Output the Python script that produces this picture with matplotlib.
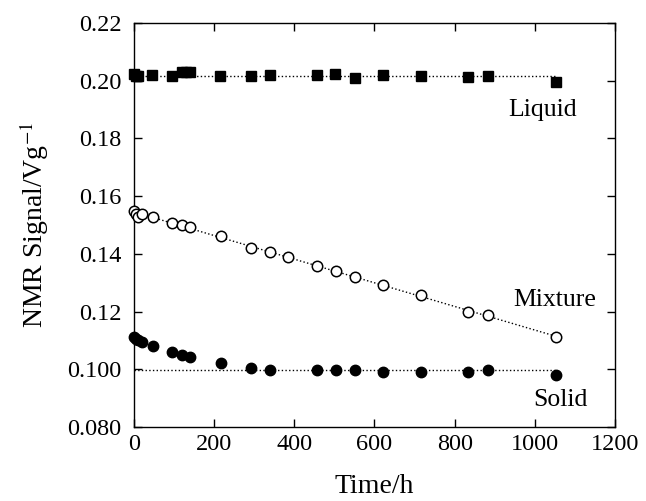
import numpy as np
import matplotlib
matplotlib.use("Agg")
import matplotlib.pyplot as plt
from matplotlib.ticker import FixedLocator, FixedFormatter

plt.rcParams['font.family'] = ['Liberation Serif', 'DejaVu Serif']
plt.rcParams['mathtext.fontset'] = 'stix'

# Data (time in hours, NMR signal in V/g)
liquid_t = [0, 6, 10, 46, 94, 119, 130, 140, 215, 291, 339, 456, 502, 551, 622, 716, 834, 882, 1053]
liquid_v = [0.2023, 0.2016, 0.2015, 0.2020, 0.2016, 0.2031, 0.2031, 0.2031, 0.2016, 0.2018, 0.2020,
            0.2020, 0.2023, 0.2008, 0.2020, 0.2016, 0.2012, 0.2016, 0.1995]

mixture_t = [0, 6, 10, 21, 48, 94, 119, 140, 216, 292, 339, 385, 456, 504, 551, 622, 716, 834, 882, 1053]
mixture_v = [0.1550, 0.1538, 0.1529, 0.1538, 0.1527, 0.1506, 0.1500, 0.1494, 0.1462, 0.1421, 0.1407,
             0.1389, 0.1358, 0.1340, 0.1320, 0.1292, 0.1256, 0.1198, 0.1188, 0.1111]

solid_t = [0, 6, 10, 21, 48, 94, 119, 140, 216, 291, 339, 456, 504, 551, 622, 716, 834, 882, 1053]
solid_v = [0.1111, 0.1104, 0.1100, 0.1096, 0.1082, 0.1060, 0.1050, 0.1044, 0.1021, 0.1006, 0.0997,
           0.0997, 0.0996, 0.0998, 0.0991, 0.0990, 0.0991, 0.0997, 0.0981]

liquid_level = 0.2016
solid_level = 0.0996
line_range = [0, 1053]

yticks = [0.080, 0.100, 0.12, 0.14, 0.16, 0.18, 0.20, 0.22]
ytick_labels = ["0.080", "0.100", "0.12", "0.14", "0.16", "0.18", "0.20", "0.22"]
xticks = [0, 200, 400, 600, 800, 1000, 1200]

fig = plt.figure(figsize=(6.46, 5.01), dpi=100)
ax = fig.add_axes([0.2074, 0.1477, 0.7446, 0.8063])

# fitted / guide lines
ax.plot(line_range, [liquid_level, liquid_level], ls=':', color='black', lw=1.0)
ax.plot(line_range, [solid_level, solid_level], ls=':', color='black', lw=1.0)
coef = np.polyfit(mixture_t, mixture_v, 1)
ax.plot(line_range, np.polyval(coef, line_range), ls=':', color='black', lw=1.0)

ax.plot(liquid_t, liquid_v, ls='none', marker='s', ms=6.5, color='black', clip_on=False, zorder=3)
ax.plot(mixture_t, mixture_v, ls='none', marker='o', ms=7.5, mfc='white', mec='black', mew=1.1,
        clip_on=False, zorder=3)
ax.plot(solid_t, solid_v, ls='none', marker='o', ms=7.5, color='black', clip_on=False, zorder=3)

ax.text(1020, 0.1897, "Liquid", fontsize=18.5, ha='center', va='center')
ax.text(1050, 0.1240, "Mixture", fontsize=18.5, ha='center', va='center')
ax.text(1063, 0.0894, "Solid", fontsize=18.5, ha='center', va='center')

ax.set_xlim(0, 1200)
ax.set_ylim(0.08, 0.22)
ax.xaxis.set_major_locator(FixedLocator(xticks))
ax.yaxis.set_major_locator(FixedLocator(yticks))
ax.yaxis.set_major_formatter(FixedFormatter(ytick_labels))
ax.tick_params(direction='in', top=True, right=True, length=6, width=1, labelsize=17.5)
ax.tick_params(axis='x', pad=5)
ax.tick_params(axis='y', pad=9)

ax.set_xlabel("Time/h", fontsize=20, labelpad=14)
ax.set_ylabel("NMR Signal/Vg$^{-1}$", fontsize=20, labelpad=12)

for s in ax.spines.values():
    s.set_linewidth(1.0)

fig.savefig("out.png", dpi=100)
